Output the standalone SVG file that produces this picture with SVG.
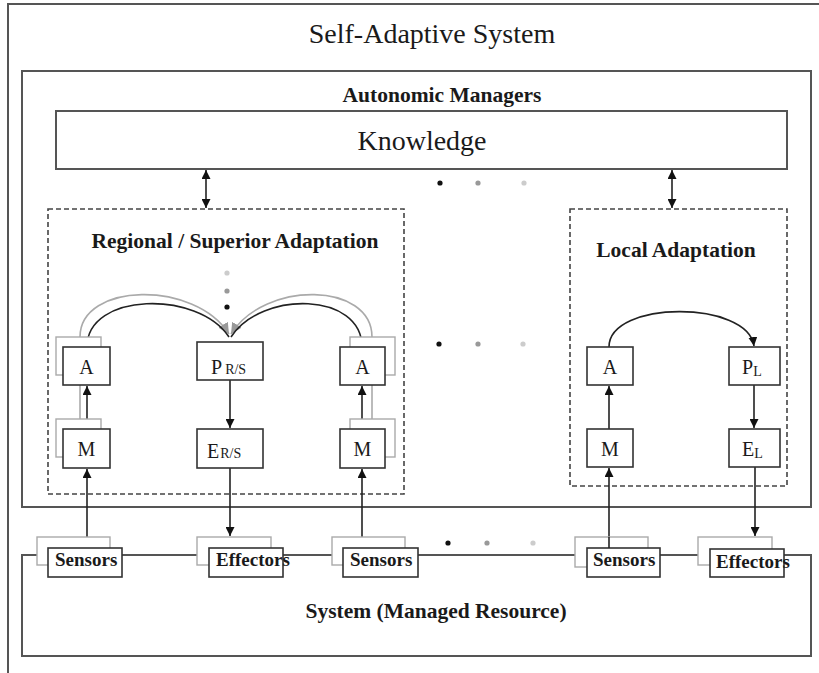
<svg xmlns="http://www.w3.org/2000/svg" width="819" height="673" viewBox="0 0 819 673">
  <style>
    text { font-family: "Liberation Serif", "Times New Roman", serif; fill: #1a1a1a; }
    .frame { fill: none; stroke: #555; stroke-width: 2; }
    .dash { fill: none; stroke: #444; stroke-width: 1.6; stroke-dasharray: 5 3; }
    .box { fill: #fff; stroke: #333; stroke-width: 1.6; }
    .shadow { fill: #fff; stroke: #aaa; stroke-width: 1.4; }
    .wire { fill: none; stroke: #222; stroke-width: 1.6; }
    .gwire { fill: none; stroke: #aaa; stroke-width: 1.6; }
    .lbl { font-size: 20px; text-anchor: middle; }
    .sub { font-size: 14px; }
    .io { font-size: 19px; font-weight: bold; }
    .head { font-weight: bold; text-anchor: middle; font-size: 21.5px; }
  </style>
  <defs>
    <marker id="arr" viewBox="0 0 10 10" refX="10" refY="5" markerWidth="9" markerHeight="9" markerUnits="userSpaceOnUse" orient="auto-start-reverse">
      <path d="M0,0 L10,5 L0,10 z" fill="#111"/>
    </marker>
    <marker id="garr" viewBox="0 0 10 10" refX="10" refY="5" markerWidth="11" markerHeight="11" markerUnits="userSpaceOnUse" orient="auto">
      <path d="M0,0 L10,5 L0,10 z" fill="#999"/>
    </marker>
  </defs>

  <!-- outer system frame -->
  <rect class="frame" x="8" y="4" width="830" height="700"/>
  <text x="432" y="43" font-size="28" text-anchor="middle">Self-Adaptive System</text>

  <!-- autonomic managers -->
  <g id="autonomic-managers">
    <rect class="frame" x="22" y="71" width="789" height="436"/>
    <text class="head" x="442" y="102">Autonomic Managers</text>
  </g>

  <g id="knowledge">
    <rect class="frame" x="56" y="111" width="731" height="58"/>
    <text x="422" y="150" font-size="28" text-anchor="middle">Knowledge</text>
  </g>

  <g id="regional">
    <rect class="dash" x="48" y="209" width="356" height="285"/>
    <text class="head" x="235" y="248" font-size="22.5">Regional / Superior Adaptation</text>
  </g>

  <g id="local">
    <rect class="dash" x="570" y="209" width="217" height="277"/>
    <text class="head" x="676" y="257" font-size="22.5">Local Adaptation</text>
  </g>

  <!-- managed resource -->
  <g id="system">
    <rect class="frame" x="22" y="555" width="789" height="101"/>
    <text class="head" x="436" y="618">System (Managed Resource)</text>
  </g>

  <!-- ellipsis dots -->
  <g id="dots">
    <circle cx="440" cy="183" r="2.6" fill="#111"/>
    <circle cx="478" cy="183" r="2.6" fill="#999"/>
    <circle cx="524" cy="183" r="2.6" fill="#ccc"/>
    <circle cx="439" cy="344" r="2.6" fill="#111"/>
    <circle cx="478" cy="344" r="2.6" fill="#999"/>
    <circle cx="523" cy="344" r="2.6" fill="#ccc"/>
    <circle cx="448" cy="543" r="2.6" fill="#111"/>
    <circle cx="487" cy="543" r="2.6" fill="#999"/>
    <circle cx="533" cy="543" r="2.6" fill="#ccc"/>
    <circle cx="227" cy="273" r="2.6" fill="#ccc"/>
    <circle cx="227" cy="291" r="2.6" fill="#999"/>
    <circle cx="227" cy="307" r="2.6" fill="#111"/>
  </g>

  <!-- connectors -->
  <g id="connectors">
    <line class="wire" x1="206" y1="170" x2="206" y2="208" marker-start="url(#arr)" marker-end="url(#arr)"/>
    <line class="wire" x1="672" y1="170" x2="672" y2="208" marker-start="url(#arr)" marker-end="url(#arr)"/>

    <!-- shadow links between stacked managers -->
    <line class="gwire" x1="80" y1="375" x2="80" y2="419"/>
    <line class="gwire" x1="372" y1="375" x2="372" y2="419"/>
    <path class="gwire" d="M80,337 C80,282 195,280 229,334" marker-end="url(#garr)"/>
    <path class="gwire" d="M372,337 C372,282 265,280 231,334" marker-end="url(#garr)"/>
    <path class="wire" d="M87,347 C87,292 198,290 229,337"/>
    <path class="wire" d="M362,347 C362,292 262,290 231,337"/>

    <line class="wire" x1="87" y1="429" x2="87" y2="386" marker-end="url(#arr)"/>
    <line class="wire" x1="362" y1="429" x2="362" y2="386" marker-end="url(#arr)"/>
    <line class="wire" x1="230" y1="380" x2="230" y2="428" marker-end="url(#arr)"/>
    <line class="wire" x1="87" y1="537" x2="87" y2="469" marker-end="url(#arr)"/>
    <line class="wire" x1="362" y1="537" x2="362" y2="469" marker-end="url(#arr)"/>
    <line class="wire" x1="230" y1="468" x2="230" y2="536" marker-end="url(#arr)"/>

    <path class="wire" d="M609,347 C609,300 748,300 754,346" marker-end="url(#arr)"/>
    <line class="wire" x1="609" y1="429" x2="609" y2="386" marker-end="url(#arr)"/>
    <line class="wire" x1="754" y1="385" x2="754" y2="428" marker-end="url(#arr)"/>
    <line class="wire" x1="609" y1="549" x2="609" y2="468" marker-end="url(#arr)"/>
    <line class="wire" x1="755" y1="467" x2="755" y2="536" marker-end="url(#arr)"/>
  </g>

  <!-- regional managers -->
  <g id="reg-a1">
    <rect class="shadow" x="56" y="337" width="45" height="38"/>
    <rect class="box" x="63" y="347" width="47" height="38"/>
    <text class="lbl" x="86.5" y="374">A</text>
  </g>
  <g id="reg-m1">
    <rect class="shadow" x="56" y="419" width="45" height="38"/>
    <rect class="box" x="63" y="429" width="47" height="39"/>
    <text class="lbl" x="86.5" y="456">M</text>
  </g>
  <g id="reg-p">
    <rect class="box" x="197" y="342" width="66" height="38"/>
    <text x="211" y="374" font-size="20">P<tspan class="sub" dx="3">R/S</tspan></text>
  </g>
  <g id="reg-e">
    <rect class="box" x="197" y="429" width="66" height="39"/>
    <text x="207" y="458" font-size="20">E<tspan class="sub" dx="1">R/S</tspan></text>
  </g>
  <g id="reg-a2">
    <rect class="shadow" x="350" y="337" width="45" height="38"/>
    <rect class="box" x="340" y="347" width="45" height="38"/>
    <text class="lbl" x="362.5" y="374">A</text>
  </g>
  <g id="reg-m2">
    <rect class="shadow" x="350" y="419" width="45" height="38"/>
    <rect class="box" x="340" y="429" width="45" height="39"/>
    <text class="lbl" x="362.5" y="456">M</text>
  </g>

  <!-- local managers -->
  <g id="loc-a">
    <rect class="box" x="587" y="347" width="46" height="38"/>
    <text class="lbl" x="610" y="374">A</text>
  </g>
  <g id="loc-m">
    <rect class="box" x="587" y="429" width="46" height="38"/>
    <text class="lbl" x="610" y="456">M</text>
  </g>
  <g id="loc-p">
    <rect class="box" x="729" y="347" width="51" height="38"/>
    <text x="742" y="374" font-size="20">P<tspan class="sub" dy="2">L</tspan></text>
  </g>
  <g id="loc-e">
    <rect class="box" x="729" y="429" width="51" height="38"/>
    <text x="742" y="456" font-size="20">E<tspan class="sub" dy="2">L</tspan></text>
  </g>

  <!-- sensors and effectors -->
  <g id="sensors-1">
    <rect class="shadow" x="37" y="537" width="73" height="28"/>
    <rect class="box" x="48" y="548" width="74" height="29"/>
    <text class="io" x="55" y="566">Sensors</text>
  </g>
  <g id="effectors-1">
    <rect class="shadow" x="197" y="537" width="74" height="28"/>
    <rect class="box" x="209" y="548" width="74" height="29"/>
    <text class="io" x="216" y="566">Effectors</text>
  </g>
  <g id="sensors-2">
    <rect class="shadow" x="332" y="537" width="73" height="28"/>
    <rect class="box" x="343" y="548" width="75" height="29"/>
    <text class="io" x="350" y="566">Sensors</text>
  </g>
  <g id="sensors-3">
    <rect class="shadow" x="575" y="537" width="73" height="30"/>
    <rect class="box" x="587" y="548" width="73" height="29"/>
    <text class="io" x="593" y="566">Sensors</text>
  </g>
  <g id="effectors-2">
    <rect class="shadow" x="698" y="537" width="74" height="28"/>
    <rect class="box" x="710" y="549" width="74" height="28"/>
    <text class="io" x="716" y="568">Effectors</text>
  </g>
  <!-- resource link into the sensor drawn on top of its box -->
  <line class="wire" x1="609" y1="537" x2="609" y2="548"/>
</svg>
